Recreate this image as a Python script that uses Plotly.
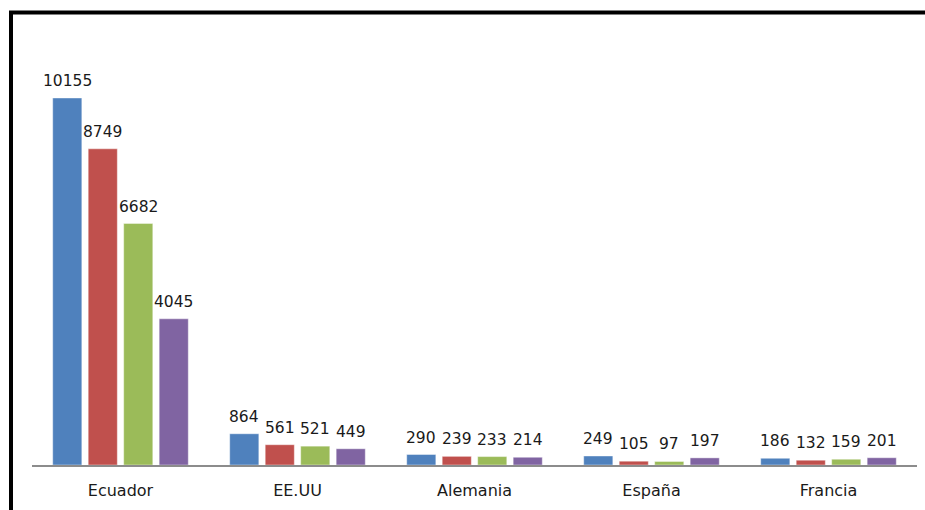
import plotly.graph_objects as go

categories = ["Ecuador", "EE.UU", "Alemania", "España", "Francia"]
series_names = ["Serie 1", "Serie 2", "Serie 3", "Serie 4"]
serie1 = [10155, 864, 290, 249, 186]
serie2 = [8749, 561, 239, 105, 132]
serie3 = [6682, 521, 233, 97, 159]
serie4 = [4045, 449, 214, 197, 201]
colors = ["#4F81BD", "#C0504D", "#9BBB59", "#8064A2"]

W, H = 925, 510
L, R, T, B = 32, 8, 40, 45
pw, ph = W - L - R, H - T - B
BARGAP, GROUPGAP = 0.198, 0.18

all_series = [serie1, serie2, serie3, serie4]
fig = go.Figure()
for name, vals, col in zip(series_names, all_series, colors):
    fig.add_trace(go.Bar(
        name=name, x=categories, y=vals,
        marker=dict(color=col, line=dict(color="rgba(255,255,255,0.5)", width=0.8)),
        hoverinfo="x+y",
    ))

slot = pw / len(categories) * (1 - BARGAP) / len(all_series)
annotations = []
for i, vals in enumerate(all_series):
    for cat, v in zip(categories, vals):
        annotations.append(dict(
            x=cat, y=v, xref="x", yref="y", text=str(v), showarrow=False,
            xshift=(i - (len(all_series) - 1) / 2) * slot, yshift=6,
            yanchor="bottom", xanchor="center",
            font=dict(family="DejaVu Sans", size=15.5, color="#1a1a1a"),
        ))

fig.update_layout(
    width=W, height=H,
    margin=dict(l=L, r=R, t=T, b=B),
    paper_bgcolor="white", plot_bgcolor="white",
    barmode="group", bargap=BARGAP, bargroupgap=GROUPGAP,
    showlegend=False,
    xaxis=dict(showline=True, linecolor="#8c8c8c", linewidth=1.5, ticks="",
               tickfont=dict(family="DejaVu Sans", size=16, color="#1a1a1a"),
               ticklabelstandoff=10, showgrid=False, zeroline=False),
    yaxis=dict(visible=False, range=[0, 11760], showgrid=False, zeroline=False),
    annotations=annotations,
    shapes=[dict(type="rect", xref="paper", yref="paper",
                 x0=(11 - L) / pw, x1=1.2,
                 y0=-0.3, y1=(H - B - 12.5) / ph,
                 line=dict(color="black", width=4), layer="above")],
)

fig.write_html("out.html", config={"displayModeBar": False},
               post_script="document.body.style.margin='0';document.body.style.overflow='hidden';")
